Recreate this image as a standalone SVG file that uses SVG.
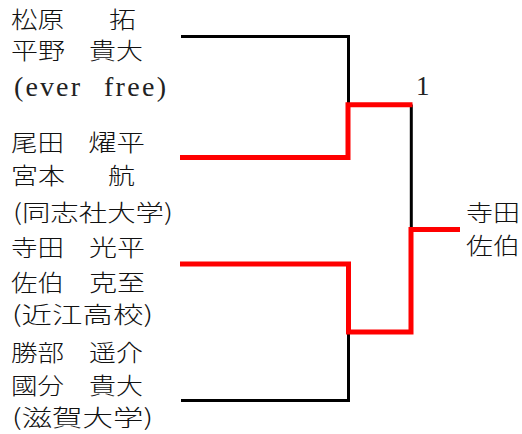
<svg xmlns="http://www.w3.org/2000/svg" width="522" height="434" viewBox="0 0 522 434">
<style>
text{font-family:"Liberation Serif","Noto Sans CJK JP",serif;font-size:23px;font-weight:300;fill:#111}
.par{font-family:"Noto Sans CJK JP","Liberation Serif",sans-serif}
.lat{font-family:"Liberation Serif",serif;font-size:28px;font-weight:normal;fill:#222}
.blk{fill:none;stroke:#000;stroke-width:3}
.red{fill:none;stroke:#ff0000;stroke-width:5;stroke-linejoin:miter}
</style>
<rect width="522" height="434" fill="#fff"/>
<g id="connectors">
<path class="blk" d="M181 36.5H348.5V105"/>
<path class="blk" d="M181 400.5H348.5V332"/>
<path class="blk" d="M411.3 104.5V229.5"/>
<path class="red" d="M180 157.5H348V104.8H412.5"/>
<path class="red" d="M180 264H348.5V332H411V229.5H460"/>
</g>
<g id="team1">
<text x="11" y="27.5" textLength="53" lengthAdjust="spacingAndGlyphs">松原</text>
<text x="109" y="27.5" textLength="27" lengthAdjust="spacingAndGlyphs">拓</text>
<text x="11" y="59" textLength="54" lengthAdjust="spacingAndGlyphs">平野</text>
<text x="89" y="59" textLength="54" lengthAdjust="spacingAndGlyphs">貴大</text>
<text class="lat" x="14" y="96" textLength="66" lengthAdjust="spacing">(ever</text>
<text class="lat" x="104" y="96" textLength="62" lengthAdjust="spacing">free)</text>
</g>
<g id="team2">
<text x="11" y="150.5" textLength="53" lengthAdjust="spacingAndGlyphs">尾田</text>
<text x="88" y="150.5" textLength="57" lengthAdjust="spacingAndGlyphs">燿平</text>
<text x="11" y="184" textLength="54" lengthAdjust="spacingAndGlyphs">宮本</text>
<text x="108" y="184" textLength="27" lengthAdjust="spacingAndGlyphs">航</text>
<text class="par" x="13" y="220.5" textLength="160" lengthAdjust="spacingAndGlyphs">(同志社大学)</text>
</g>
<g id="team3">
<text x="11" y="255.5" textLength="53" lengthAdjust="spacingAndGlyphs">寺田</text>
<text x="89" y="255.5" textLength="56" lengthAdjust="spacingAndGlyphs">光平</text>
<text x="11" y="290.5" textLength="53" lengthAdjust="spacingAndGlyphs">佐伯</text>
<text x="89" y="290.5" textLength="56" lengthAdjust="spacingAndGlyphs">克至</text>
<text class="par" x="12" y="323" textLength="141" lengthAdjust="spacingAndGlyphs">(近江高校)</text>
</g>
<g id="team4">
<text x="11" y="360.5" textLength="53" lengthAdjust="spacingAndGlyphs">勝部</text>
<text x="89" y="360.5" textLength="54" lengthAdjust="spacingAndGlyphs">遥介</text>
<text x="11" y="393.5" textLength="53" lengthAdjust="spacingAndGlyphs">國分</text>
<text x="89" y="393.5" textLength="54" lengthAdjust="spacingAndGlyphs">貴大</text>
<text class="par" x="12" y="426" textLength="141" lengthAdjust="spacingAndGlyphs">(滋賀大学)</text>
</g>
<g id="seed">
<text class="lat" x="416" y="95" style="font-size:27px">1</text>
</g>
<g id="winner">
<text x="466" y="220.5" textLength="54" lengthAdjust="spacingAndGlyphs">寺田</text>
<text x="466" y="253.5" textLength="54" lengthAdjust="spacingAndGlyphs">佐伯</text>
</g>
</svg>
